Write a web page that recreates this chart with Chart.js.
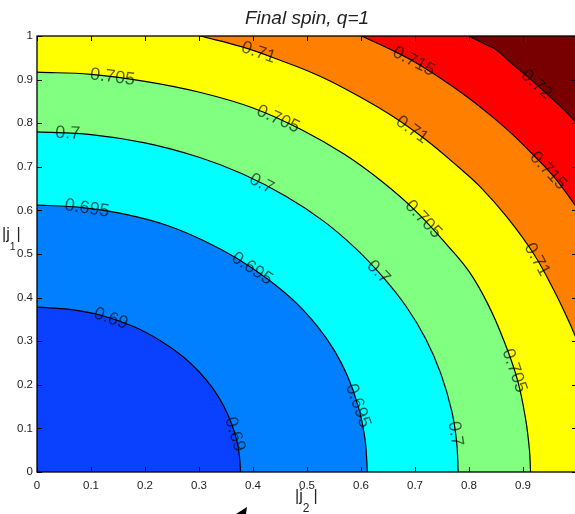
<!DOCTYPE html>
<html>
<head>
<meta charset="utf-8">
<title>Final spin, q=1</title>
<script src="https://cdn.jsdelivr.net/npm/chart.js@4.4.0/dist/chart.umd.min.js"></script>
<style>
  body { margin: 0; overflow: hidden; background: #fff; }
  #wrap { width: 575px; height: 514px; overflow: hidden; }
</style>
</head>
<body>
<div id="wrap"><canvas id="plot" width="578" height="514"></canvas></div>
<script>
const levels = ['0.69', '0.695', '0.7', '0.705', '0.71', '0.715', '0.72'];

// contour lines, as [|j2|, |j1|]
const c069 = [[0, 0.378], [0.06, 0.373], [0.12, 0.359], [0.18, 0.333], [0.23, 0.300], [0.27, 0.265],
  [0.30, 0.230], [0.325, 0.193], [0.345, 0.153], [0.36, 0.112], [0.37, 0.072], [0.375, 0.035], [0.377, 0]];
const c0695 = [[0, 0.612], [0.08, 0.607], [0.16, 0.592], [0.24, 0.566], [0.31, 0.530], [0.37, 0.490],
  [0.43, 0.440], [0.48, 0.388], [0.52, 0.333], [0.55, 0.280], [0.575, 0.220], [0.595, 0.150], [0.607, 0.080], [0.612, 0]];
const c070 = [[0, 0.780], [0.1, 0.774], [0.2, 0.755], [0.3, 0.722], [0.38, 0.684], [0.46, 0.633], [0.53, 0.576],
  [0.59, 0.513], [0.64, 0.448], [0.684, 0.379], [0.72, 0.305], [0.748, 0.225], [0.768, 0.140], [0.777, 0.070], [0.780, 0]];
const c0705 = [[0, 0.917], [0.1, 0.912], [0.2, 0.896], [0.301, 0.871], [0.4, 0.835], [0.49, 0.785], [0.57, 0.728],
  [0.64, 0.665], [0.70, 0.600], [0.76, 0.520], [0.80, 0.460], [0.835, 0.385], [0.865, 0.300], [0.89, 0.210],
  [0.905, 0.120], [0.912, 0.050], [0.914, 0]];
const c071 = [[0.302, 1.0], [0.38, 0.975], [0.449, 0.945], [0.52, 0.910], [0.59, 0.866], [0.66, 0.815], [0.72, 0.762],
  [0.78, 0.700], [0.82, 0.655], [0.87, 0.585], [0.92, 0.500], [0.96, 0.410], [0.985, 0.345], [1.0, 0.303]];
const c0715 = [[0.601, 1.0], [0.65, 0.972], [0.70, 0.940], [0.75, 0.901], [0.795, 0.862], [0.84, 0.818],
  [0.88, 0.775], [0.92, 0.726], [0.96, 0.673], [1.0, 0.606]];
const c072 = [[0.80, 1.0], [0.83, 0.981], [0.851, 0.968], [0.88, 0.936], [0.91, 0.905], [0.94, 0.872],
  [0.97, 0.838], [1.0, 0.80]];

const xTicks = [0, 0.1, 0.2, 0.3, 0.4, 0.5, 0.6, 0.7, 0.8, 0.9];
const xTickLabels = ['0', '0.1', '0.2', '0.3', '0.4', '0.5', '0.6', '0.7', '0.8', '0.9'];
const yTicks = [0, 0.1, 0.2, 0.3, 0.4, 0.5, 0.6, 0.7, 0.8, 0.9, 1];
const yTickLabels = ['0', '0.1', '0.2', '0.3', '0.4', '0.5', '0.6', '0.7', '0.8', '0.9', '1'];

// where the inline labels sit: [level, |j2|, |j1|]
const labelSpots = [
  ['0.69', 0.136, 0.349], ['0.69', 0.368, 0.087],
  ['0.695', 0.092, 0.601], ['0.695', 0.399, 0.468], ['0.695', 0.583, 0.147],
  ['0.7', 0.057, 0.775], ['0.7', 0.427, 0.688], ['0.7', 0.636, 0.463], ['0.7', 0.771, 0.087],
  ['0.705', 0.140, 0.906], ['0.705', 0.453, 0.827], ['0.705', 0.72, 0.585], ['0.705', 0.888, 0.234],
  ['0.71', 0.412, 0.968], ['0.71', 0.705, 0.803], ['0.71', 0.924, 0.486],
  ['0.715', 0.699, 0.945], ['0.715', 0.944, 0.688],
  ['0.72', 0.922, 0.885]
];

const curves = [c069, c0695, c070, c0705, c071, c0715, c072];
// jet bands: inner ones fill below their line, outer ones fill above it
const bandColors = ['#0a40ff', '#0080ff', '#00ffff', '#80ff80', '#ff8000', '#ff0000', '#780000'];
const fillTo = ['origin', 'origin', 'origin', 'origin', 'end', 'end', 'end'];
const drawOrder = [0, 1, 2, 3, 6, 5, 4];
const middleBand = '#ffff00';

const FONT = '"Liberation Sans", Arial, sans-serif';

const overlay = {
  id: 'overlay',
  beforeDatasetsDraw(chart) {
    const { ctx, chartArea: a } = chart;
    ctx.save();
    ctx.fillStyle = middleBand;
    ctx.fillRect(a.left, a.top, a.right - a.left, a.bottom - a.top);
    ctx.restore();
  },
  afterDatasetsDraw(chart) {
    const { ctx, scales: { x, y } } = chart;
    ctx.save();
    ctx.font = '18px ' + FONT;
    ctx.fillStyle = 'rgba(0,0,0,0.62)';
    ctx.textAlign = 'center';
    ctx.textBaseline = 'middle';
    labelSpots.forEach(([lev, lx, ly]) => {
      const pts = chart.getDatasetMeta(levels.indexOf(lev)).data;
      const px = x.getPixelForValue(lx), py = y.getPixelForValue(ly);
      let best = null, bd = Infinity;
      for (let i = 0; i < pts.length - 1; i++) {
        const p = pts[i], q = pts[i + 1];
        const dx = q.x - p.x, dy = q.y - p.y;
        let t = ((px - p.x) * dx + (py - p.y) * dy) / (dx * dx + dy * dy);
        t = Math.max(0, Math.min(1, t));
        const cx = p.x + t * dx, cy = p.y + t * dy;
        const d = (cx - px) ** 2 + (cy - py) ** 2;
        if (d < bd) { bd = d; best = { cx, cy, ang: Math.atan2(dy, dx) }; }
      }
      let ang = best.ang;
      if (ang > Math.PI / 2) ang -= Math.PI;
      if (ang < -Math.PI / 2) ang += Math.PI;
      ctx.save();
      ctx.translate(best.cx, best.cy);
      ctx.rotate(ang);
      ctx.fillText(lev, 0, 0);
      ctx.restore();
    });
    ctx.restore();
  },
  afterDraw(chart) {
    const { ctx, chartArea: a, scales: { x, y } } = chart;
    ctx.save();
    // frame with inward ticks on all four sides
    ctx.strokeStyle = '#000';
    ctx.lineWidth = 1.3;
    ctx.strokeRect(a.left, a.top, a.right - a.left, a.bottom - a.top);
    ctx.beginPath();
    xTicks.forEach(v => {
      const px = Math.round(x.getPixelForValue(v)) + 0.5;
      ctx.moveTo(px, a.bottom); ctx.lineTo(px, a.bottom - 5);
      ctx.moveTo(px, a.top); ctx.lineTo(px, a.top + 5);
    });
    yTicks.forEach(v => {
      const py = Math.round(y.getPixelForValue(v)) + 0.5;
      ctx.moveTo(a.left, py); ctx.lineTo(a.left + 5, py);
      ctx.moveTo(a.right, py); ctx.lineTo(a.right - 5, py);
    });
    ctx.lineWidth = 1;
    ctx.stroke();

    ctx.fillStyle = '#222';
    ctx.textBaseline = 'alphabetic';
    // title
    ctx.font = 'italic 19px ' + FONT;
    ctx.textAlign = 'center';
    ctx.fillText('Final spin, q=1', (a.left + a.right) / 2, 24);

    // axis names with subscripts
    ctx.textAlign = 'left';
    function subLabel(main, sub, x0, base, subBase, size, subSize, gap) {
      ctx.font = size + 'px ' + FONT;
      ctx.fillText(main, x0, base);
      let cx = x0 + ctx.measureText(main).width;
      ctx.font = subSize + 'px ' + FONT;
      ctx.fillText(sub, cx, subBase);
      cx += ctx.measureText(sub).width + gap;
      ctx.font = size + 'px ' + FONT;
      ctx.fillText('|', cx, base);
    }
    subLabel('|j', '1', 2, 239, 250, 16, 10.5, 1);
    subLabel('|j', '2', 295, 501, 511.5, 16, 12, 4);

    // stray arrow head at the bottom
    ctx.beginPath();
    ctx.moveTo(247, 507);
    ctx.lineTo(236, 514);
    ctx.lineTo(246, 514);
    ctx.closePath();
    ctx.fillStyle = '#000';
    ctx.fill();
    ctx.restore();
  }
};

new Chart(document.getElementById('plot'), {
  type: 'line',
  data: {
    datasets: curves.map((c, i) => ({
      label: levels[i],
      data: c.map(([px, py]) => ({ x: px, y: py })),
      borderColor: '#000',
      borderWidth: 1.2,
      backgroundColor: bandColors[i],
      fill: fillTo[i],
      order: drawOrder[i],
      pointRadius: 0,
      tension: 0.4
    }))
  },
  options: {
    responsive: false,
    animation: false,
    devicePixelRatio: 1,
    layout: { padding: { top: 36, left: 0, right: 1, bottom: 0 } },
    plugins: { legend: { display: false }, tooltip: { enabled: false } },
    scales: {
      x: {
        type: 'linear',
        min: 0,
        max: 1,
        afterFit: s => { s.height = 42; },
        afterBuildTicks: s => { s.ticks = xTicks.map(v => ({ value: v })); },
        grid: { display: false, drawTicks: false },
        border: { display: false },
        ticks: {
          padding: 7,
          color: '#222',
          maxRotation: 0,
          font: { family: FONT, size: 11.5 },
          callback: (v, i) => xTickLabels[i]
        }
      },
      y: {
        min: 0,
        max: 1,
        afterFit: s => { s.width = 37; },
        afterBuildTicks: s => { s.ticks = yTicks.map(v => ({ value: v })); },
        grid: { display: false, drawTicks: false },
        border: { display: false },
        ticks: {
          padding: 4,
          color: '#222',
          font: { family: FONT, size: 11.5 },
          callback: (v, i) => yTickLabels[i]
        }
      }
    }
  },
  plugins: [overlay]
});
</script>
</body>
</html>
